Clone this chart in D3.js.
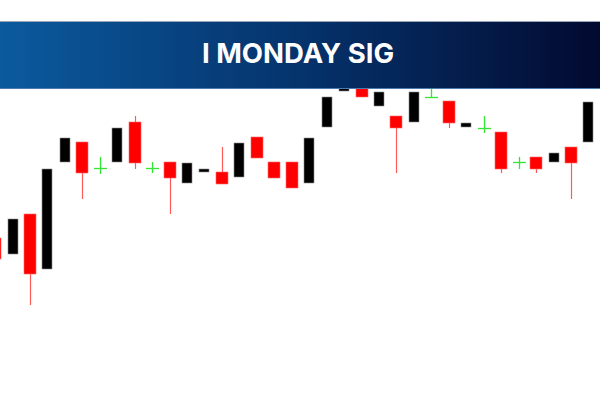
<!DOCTYPE html>
<html>
<head>
<meta charset="utf-8">
<script src="https://cdn.jsdelivr.net/npm/d3@7"></script>
<style>
  html, body { margin: 0; padding: 0; background: #fff; }
  svg { display: block; }
</style>
</head>
<body>
<svg id="chart" width="600" height="400"></svg>
<script>
const title = "I MONDAY SIG";
const categories = d3.range(1, 36).map(d => "D" + d);
const open  = [40.5, 36.5, 46.5, 32.75, 59.5, 64.5, 58, 59.5, 69.5, 58, 59.5, 54.25, 57, 57, 55.75, 65.75, 59.5, 59.5, 54.25, 68.25, 77.25, 82, 73.5, 71, 69.5, 75.75, 74.75, 68.25, 68, 67, 59.5, 60.75, 59.5, 63.25, 64.5];
const high  = [40.5, 45.25, 46.5, 57.75, 65.5, 64.5, 60.75, 68, 71, 59.5, 59.5, 59.25, 57.75, 63.25, 64.25, 65.75, 59.5, 59.5, 65.5, 75.75, 82.5, 82, 77, 71, 77, 78.75, 74.75, 69.25, 71, 67, 60.75, 60.75, 61.75, 63.25, 74.5];
const low   = [35.25, 36.5, 23.75, 32.75, 59.5, 50.25, 56.5, 59.5, 57.75, 56.75, 46.5, 54.25, 57, 54, 55.75, 60.5, 55.5, 53, 54.25, 68.25, 77.25, 75.75, 73.5, 56.75, 69.5, 75.75, 68, 68.25, 66.75, 56.75, 57.75, 56.75, 59.5, 50.25, 64.5];
const close = [35.25, 45.25, 31.5, 57.75, 65.5, 56.75, 58, 68, 59.25, 58, 55.5, 59.25, 57.75, 54, 64.25, 60.5, 55.5, 53, 65.5, 75.75, 82.5, 75.75, 77, 68, 77, 75.75, 69.25, 69.25, 68, 57.75, 59.5, 57.75, 61.75, 59.25, 74.5];

const data = categories.map((c, i) => ({c, o: open[i], h: high[i], l: low[i], cl: close[i]}));

const svg = d3.select("#chart");
const x = d3.scaleBand().domain(categories).range([-13.625, 597.125]).padding(0);
const y = d3.scaleLinear().domain([0, 100]).range([400, 0]);

const g = svg.append("g");

data.forEach(d => {
  const cx = Math.round(x(d.c) + x.bandwidth() / 2);
  if (d.o === d.cl) {
    // doji cross
    g.append("line").attr("x1", cx + 0.5).attr("x2", cx + 0.5)
      .attr("y1", y(d.h)).attr("y2", y(d.l))
      .attr("stroke", "#33e633").attr("stroke-width", 1.3);
    g.append("line").attr("x1", cx - 6).attr("x2", cx + 7)
      .attr("y1", Math.round(y(d.o)) + 0.5).attr("y2", Math.round(y(d.o)) + 0.5)
      .attr("stroke", "#33e633").attr("stroke-width", 1.3);
  } else if (d.cl > d.o) {
    // up candle: black
    g.append("rect").attr("x", cx - 5).attr("width", 10)
      .attr("y", y(d.cl)).attr("height", y(d.o) - y(d.cl))
      .attr("fill", "#000").attr("stroke", "#8a8a8a").attr("stroke-width", 0.6);
  } else {
    // down candle: red
    if (d.h > d.o) {
      g.append("line").attr("x1", cx + 0.5).attr("x2", cx + 0.5)
        .attr("y1", y(d.h)).attr("y2", y(d.o))
        .attr("stroke", "#ff5a5a").attr("stroke-width", 1.2);
    }
    if (d.l < d.cl) {
      g.append("line").attr("x1", cx + 0.5).attr("x2", cx + 0.5)
        .attr("y1", y(d.cl)).attr("y2", y(d.l))
        .attr("stroke", "#ff5a5a").attr("stroke-width", 1.2);
    }
    g.append("rect").attr("x", cx - 6).attr("width", 12)
      .attr("y", y(d.o)).attr("height", y(d.cl) - y(d.o))
      .attr("fill", "#ff0000").attr("stroke", "#ff6a6a").attr("stroke-width", 0.6);
  }
});

// header band
const defs = svg.append("defs");
const grad = defs.append("linearGradient").attr("id", "hdr").attr("x1", "0").attr("x2", "1").attr("y1", "0").attr("y2", "0");
grad.append("stop").attr("offset", "0%").attr("stop-color", "#0b5a9e");
grad.append("stop").attr("offset", "50%").attr("stop-color", "#05336c");
grad.append("stop").attr("offset", "100%").attr("stop-color", "#020a30");

svg.append("rect").attr("x", 0).attr("y", 21).attr("width", 600).attr("height", 68).attr("fill", "url(#hdr)");
svg.append("line").attr("x1", 0).attr("x2", 600).attr("y1", 21.5).attr("y2", 21.5).attr("stroke", "#9aa6b8").attr("stroke-width", 1);
svg.append("line").attr("x1", 0).attr("x2", 600).attr("y1", 88.5).attr("y2", 88.5).attr("stroke", "#4d79ad").attr("stroke-width", 1);

const t = svg.append("text").attr("x", 298).attr("y", 63)
  .attr("text-anchor", "middle")
  .attr("font-family", "Inter, 'Open Sans', sans-serif")
  .attr("font-weight", 700).attr("font-size", 27.5)
  .attr("fill", "#ffffff")
  .text(title);
const len = t.node().getComputedTextLength();
if (Math.abs(len - 192) > 3) t.attr("textLength", 192).attr("lengthAdjust", "spacingAndGlyphs");
</script>
</body>
</html>
